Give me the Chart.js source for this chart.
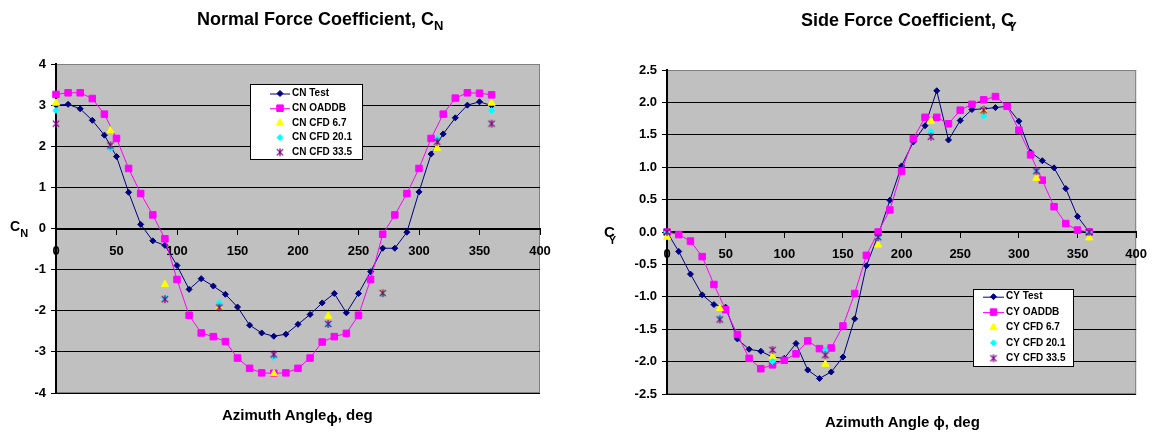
<!DOCTYPE html>
<html>
<head>
<meta charset="utf-8">
<script src="https://cdn.jsdelivr.net/npm/chart.js@4.4.0/dist/chart.umd.min.js"></script>
<style>
  body { margin: 0; background: #fff; width: 1157px; height: 432px; position: relative; overflow: hidden;
         font-family: "Liberation Sans", Arial, sans-serif; }
  canvas { position: absolute; top: 0; }
  .t { position: absolute; font-weight: bold; white-space: nowrap; color: #000; }
</style>
</head>
<body>
<canvas id="cn" width="578" height="432" style="left:0"></canvas>
<canvas id="cy" width="579" height="432" style="left:578px"></canvas>

<div class="t" style="left:197px;top:10px;font-size:18px;line-height:18px">Normal Force Coefficient, C<span style="font-size:13px;position:relative;top:5px">N</span></div>
<div class="t" style="left:801px;top:11px;font-size:18px;line-height:18px">Side Force Coefficient, C<span style="font-size:13px;position:relative;top:5px;margin-left:-6px">Y</span></div>
<div class="t" style="left:10px;top:219px;font-size:14px;line-height:14px">C<span style="font-size:11px;position:relative;top:6px">N</span></div>
<div class="t" style="left:604px;top:224px;font-size:15px;line-height:15px">C<span style="font-size:11px;position:relative;top:7px;margin-left:-6px">Y</span></div>
<div class="t" style="left:222px;top:407px;font-size:15px;line-height:15px">Azimuth Angle<span style="position:relative;top:3px">ϕ</span>, deg</div>
<div class="t" style="left:825px;top:414px;font-size:15px;line-height:15px">Azimuth Angle ϕ, deg</div>

<script>
// azimuth angles, deg
const testAngles = [0, 10, 20, 30, 40, 50, 60, 70, 80, 90, 100, 110, 120, 130, 140, 150, 160, 170, 180,
                    190, 200, 210, 220, 230, 240, 250, 260, 270, 280, 290, 300, 310, 320, 330, 340, 350, 360];
const cfdAngles = [0, 45, 90, 135, 180, 225, 270, 315, 360];

// normal force coefficient
const cnTest = [3.00, 3.02, 2.91, 2.63, 2.27, 1.75, 0.88, 0.10, -0.30, -0.41, -0.90, -1.48, -1.22, -1.40, -1.60,
                -1.91, -2.35, -2.54, -2.62, -2.57, -2.33, -2.09, -1.81, -1.58, -2.05, -1.58, -1.05, -0.48, -0.48,
                -0.09, 0.89, 1.81, 2.30, 2.69, 3.00, 3.08, 2.99];
const cnOaddb = [3.26, 3.30, 3.30, 3.16, 2.78, 2.19, 1.46, 0.85, 0.33, -0.25, -1.24, -2.11, -2.54, -2.63, -2.75,
                 -3.15, -3.40, -3.51, -3.52, -3.51, -3.40, -3.15, -2.76, -2.63, -2.55, -2.11, -1.24, -0.14, 0.33,
                 0.85, 1.46, 2.19, 2.78, 3.17, 3.30, 3.29, 3.25];
const cnCfd67 = [3.05, 2.38, -1.36, -1.92, -3.53, -2.13, -1.58, 1.95, 3.05];
const cnCfd201 = [2.87, 1.94, -1.69, -1.81, -3.14, -2.34, -1.60, 2.18, 2.87];
const cnCfd335 = [2.55, 2.02, -1.72, -1.92, -3.06, -2.32, -1.57, 2.11, 2.55];

// side force coefficient
const cyTest = [0.00, -0.30, -0.65, -0.97, -1.12, -1.16, -1.65, -1.81, -1.84, -1.93, -1.95, -1.72, -2.13, -2.26,
                -2.16, -1.93, -1.34, -0.52, -0.05, 0.49, 1.02, 1.39, 1.64, 2.18, 1.42, 1.72, 1.89, 1.90, 1.92,
                1.94, 1.71, 1.23, 1.10, 0.99, 0.67, 0.24, 0.00];
const cyOaddb = [0.00, -0.04, -0.14, -0.38, -0.81, -1.20, -1.58, -1.95, -2.11, -2.05, -1.98, -1.88, -1.68, -1.80,
                 -1.79, -1.45, -0.95, -0.36, 0.00, 0.34, 0.94, 1.44, 1.77, 1.77, 1.67, 1.88, 1.97, 2.04, 2.09,
                 1.94, 1.57, 1.19, 0.80, 0.39, 0.13, 0.03, 0.00];
const cyCfd67 = [-0.08, -1.18, -1.92, -2.04, -0.20, 1.71, 1.88, 0.83, -0.09];
const cyCfd201 = [0.00, -1.32, -2.00, -1.82, -0.09, 1.55, 1.79, 0.94, 0.00];
const cyCfd335 = [0.00, -1.35, -1.82, -1.90, -0.08, 1.47, 1.88, 0.94, 0.00];

const FONT = '"Liberation Sans", Arial, sans-serif';

function pts(xs, ys) {
    return xs.map((x, i) => ({ x: x, y: ys[i] }));
}

// excel style star marker: an x with a vertical bar
function starMarker(color, r) {
    const c = document.createElement('canvas');
    const s = r * 2 + 2;
    c.width = s; c.height = s;
    const g = c.getContext('2d');
    const m = s / 2, d = r * 0.8;
    g.strokeStyle = color;
    g.lineWidth = 1.2;
    g.beginPath();
    g.moveTo(m - d, m - d); g.lineTo(m + d, m + d);
    g.moveTo(m + d, m - d); g.lineTo(m - d, m + d);
    g.moveTo(m, m - r); g.lineTo(m, m + r);
    g.stroke();
    return c;
}

// grey plot area like the old excel charts
const plotBg = {
    id: 'plotBg',
    beforeDraw(chart) {
        const { ctx, chartArea: a } = chart;
        ctx.save();
        ctx.fillStyle = '#fff';
        ctx.fillRect(0, 0, chart.width, chart.height);
        ctx.fillStyle = '#C0C0C0';
        ctx.fillRect(a.left, a.top, a.right - a.left, a.bottom - a.top);
        ctx.strokeStyle = '#808080';
        ctx.lineWidth = 1;
        ctx.strokeRect(a.left + 0.5, a.top + 0.5, a.right - a.left - 1, a.bottom - a.top - 1);
        ctx.restore();
    }
};

// legend box drawn inside the plot
const boxLegend = {
    id: 'boxLegend',
    afterDraw(chart, args, o) {
        const ctx = chart.ctx;
        ctx.save();
        ctx.fillStyle = '#fff';
        ctx.fillRect(o.x, o.y, o.w, o.h);
        ctx.strokeStyle = '#000';
        ctx.lineWidth = 1;
        ctx.strokeRect(o.x + 0.5, o.y + 0.5, o.w, o.h);
        ctx.font = 'bold 10px ' + FONT;
        ctx.textBaseline = 'middle';
        chart.data.datasets.forEach((ds, i) => {
            const y = o.y + o.first + i * o.step;
            if (ds.showLine) {
                ctx.strokeStyle = ds.borderColor;
                ctx.lineWidth = 1;
                ctx.beginPath();
                ctx.moveTo(o.lx1, y + 0.5);
                ctx.lineTo(o.lx2, y + 0.5);
                ctx.stroke();
            }
            ctx.fillStyle = ds.pointBackgroundColor;
            ctx.strokeStyle = ds.pointBorderColor;
            ctx.lineWidth = 1;
            Chart.helpers.drawPoint(ctx, {
                pointStyle: ds.pointStyle, radius: ds.pointRadius, rotation: 0, borderWidth: 1
            }, (o.lx1 + o.lx2) / 2, y);
            ctx.fillStyle = '#000';
            ctx.fillText(ds.label, o.tx, y);
        });
        ctx.restore();
    }
};

function makeDatasets(prefix, test, oaddb, c67, c201, c335) {
    return [
        {
            label: prefix + ' Test', data: pts(testAngles, test), showLine: true,
            borderColor: '#000080', borderWidth: 1, pointStyle: 'rectRot', pointRadius: 3,
            pointBackgroundColor: '#000080', pointBorderColor: '#000080', pointBorderWidth: 1,
            clip: false, order: 5
        },
        {
            label: prefix + ' OADDB', data: pts(testAngles, oaddb), showLine: true,
            borderColor: '#FF00FF', borderWidth: 1, pointStyle: 'rect', pointRadius: 4.6,
            pointBackgroundColor: '#FF00FF', pointBorderColor: '#FF00FF', pointBorderWidth: 1,
            clip: false, order: 4
        },
        {
            label: prefix + ' CFD 6.7', data: pts(cfdAngles, c67), showLine: false,
            pointStyle: 'triangle', pointRadius: 4.2,
            pointBackgroundColor: '#FFFF00', pointBorderColor: '#FFFF00', pointBorderWidth: 1,
            clip: false, order: 3
        },
        {
            label: prefix + ' CFD 20.1', data: pts(cfdAngles, c201), showLine: false,
            pointStyle: 'rectRot', pointRadius: 3,
            pointBackgroundColor: '#00FFFF', pointBorderColor: '#00FFFF', pointBorderWidth: 1,
            clip: false, order: 2
        },
        {
            label: prefix + ' CFD 33.5', data: pts(cfdAngles, c335), showLine: false,
            pointStyle: starMarker('#800080', 4), pointRadius: 4,
            pointBackgroundColor: '#800080', pointBorderColor: '#800080', pointBorderWidth: 1,
            clip: false, order: 1
        }
    ];
}

function makeChart(id, datasets, yMin, yMax, yStep, yFmt, area, legend) {
    const canvas = document.getElementById(id);
    return new Chart(canvas, {
        type: 'scatter',
        data: { datasets: datasets },
        options: {
            responsive: false,
            animation: false,
            devicePixelRatio: 1,
            layout: {
                padding: { left: 0, top: area.top, right: canvas.width - area.right, bottom: canvas.height - area.bottom }
            },
            plugins: {
                legend: { display: false },
                tooltip: { enabled: false },
                boxLegend: legend
            },
            scales: {
                x: {
                    type: 'linear', min: 0, max: 400, position: { y: 0 },
                    ticks: { stepSize: 50, color: '#000', font: { family: FONT, size: 13, weight: 'bold' }, padding: 10 },
                    grid: { display: true, drawOnChartArea: false, drawTicks: true, tickLength: 5, tickColor: '#000' },
                    border: { display: true, color: '#000', width: 2 }
                },
                y: {
                    type: 'linear', min: yMin, max: yMax, position: 'left',
                    afterFit: (s) => { s.width = area.left; },
                    ticks: { stepSize: yStep, color: '#000', font: { family: FONT, size: 13, weight: 'bold' },
                             padding: 5, callback: yFmt },
                    grid: {
                        color: (c) => (c.tick && c.tick.value === yMax ? '#808080' : '#000'),
                        lineWidth: 1, tickLength: 5, tickColor: '#000'
                    },
                    border: { display: true, color: '#000', width: 2 }
                }
            }
        },
        plugins: [plotBg, boxLegend]
    });
}

makeChart('cn', makeDatasets('CN', cnTest, cnOaddb, cnCfd67, cnCfd201, cnCfd335),
    -4, 4, 1, (v) => String(v),
    { left: 56, right: 540, top: 64, bottom: 393 },
    { x: 250, y: 84, w: 112, h: 75, first: 9.5, step: 14.7, lx1: 270, lx2: 290, tx: 292 });

makeChart('cy', makeDatasets('CY', cyTest, cyOaddb, cyCfd67, cyCfd201, cyCfd335),
    -2.5, 2.5, 0.5, (v) => v.toFixed(1),
    { left: 89, right: 562, top: 70, bottom: 394 },
    { x: 395, y: 289, w: 100, h: 77, first: 7.7, step: 15.4, lx1: 405, lx2: 426, tx: 428 });
</script>
</body>
</html>
